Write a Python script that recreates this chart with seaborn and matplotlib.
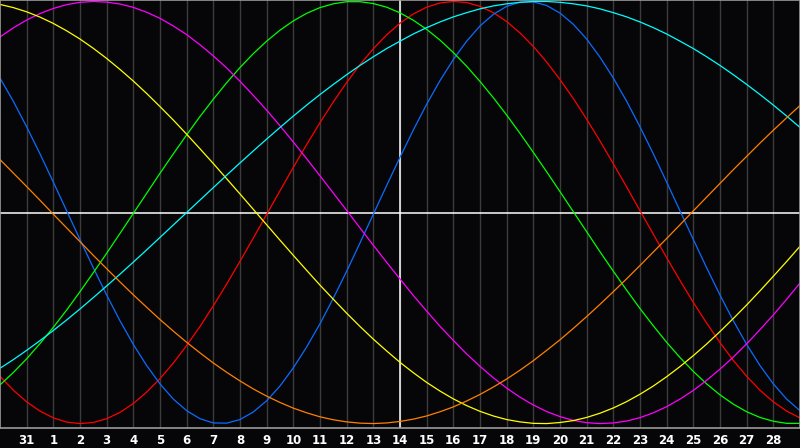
import matplotlib
matplotlib.use("Agg")
import matplotlib.pyplot as plt
import seaborn as sns
import pandas as pd
import numpy as np

sns.set_style("dark")

# day index runs from Jan 30 (0) to Feb 29-ish (30), read in half-day steps
days = np.arange(0, 30.01, 0.5)
day_labels = ["31"] + [str(d) for d in range(1, 29)]

# cycle values (-1 .. 1)
red = [-.776,-.842,-.897,-.941,-.973,-.993,-1.000,-.995,-.977,-.947,-.905,-.851,-.787,-.713,-.630,-.540,-.442,-.339,-.231,-.121,-.009,.103,.214,.322,.426,.524,.616,.701,.776,.842,.897,.941,.973,.993,1.000,.995,.977,.947,.905,.851,.787,.713,.630,.540,.442,.339,.231,.121,.009,-.103,-.214,-.322,-.426,-.524,-.616,-.701,-.776,-.842,-.897,-.941,-.973]
blue = [.637,.527,.406,.278,.144,.008,-.128,-.262,-.391,-.513,-.625,-.725,-.812,-.884,-.939,-.977,-.997,-.998,-.981,-.945,-.892,-.822,-.736,-.637,-.527,-.406,-.278,-.144,-.008,.128,.262,.391,.513,.625,.725,.812,.884,.939,.977,.997,.998,.981,.945,.892,.822,.736,.637,.527,.406,.278,.144,.008,-.128,-.262,-.391,-.513,-.625,-.725,-.812,-.884,-.939]
green = [-.817,-.758,-.693,-.621,-.544,-.462,-.375,-.285,-.193,-.099,-.004,.091,.186,.278,.368,.455,.537,.615,.687,.753,.812,.864,.908,.944,.971,.989,.999,.999,.990,.973,.946,.911,.868,.817,.758,.693,.621,.544,.462,.375,.285,.193,.099,.004,-.091,-.186,-.278,-.368,-.455,-.537,-.615,-.687,-.753,-.812,-.864,-.908,-.944,-.971,-.989,-.999,-.999]
magenta = [.832,.875,.912,.943,.967,.985,.996,1.000,.997,.988,.972,.949,.920,.884,.843,.795,.742,.685,.622,.555,.485,.411,.334,.255,.174,.092,.010,-.073,-.155,-.236,-.315,-.393,-.467,-.539,-.606,-.670,-.729,-.783,-.832,-.875,-.912,-.943,-.967,-.985,-.996,-1.000,-.997,-.988,-.972,-.949,-.920,-.884,-.843,-.795,-.742,-.685,-.622,-.555,-.485,-.411,-.334]
yellow = [.986,.971,.951,.926,.896,.861,.822,.778,.730,.678,.623,.564,.502,.438,.371,.302,.232,.160,.088,.015,-.058,-.131,-.203,-.274,-.344,-.411,-.477,-.540,-.600,-.656,-.710,-.759,-.805,-.846,-.883,-.915,-.942,-.964,-.981,-.992,-.999,-1.000,-.995,-.986,-.971,-.951,-.926,-.896,-.861,-.822,-.778,-.730,-.678,-.623,-.564,-.502,-.438,-.371,-.302,-.232,-.160]
orange = [.251,.187,.123,.058,-.008,-.073,-.138,-.203,-.266,-.329,-.390,-.449,-.507,-.562,-.615,-.665,-.713,-.757,-.798,-.836,-.870,-.900,-.927,-.949,-.968,-.982,-.992,-.998,-1.000,-.997,-.990,-.979,-.964,-.944,-.921,-.893,-.862,-.827,-.789,-.747,-.702,-.653,-.603,-.549,-.493,-.435,-.375,-.314,-.251,-.187,-.123,-.058,.008,.073,.138,.203,.266,.329,.390,.449,.507]
cyan = [-.738,-.697,-.653,-.607,-.559,-.509,-.457,-.403,-.348,-.292,-.235,-.177,-.118,-.059,.000,.059,.118,.177,.235,.292,.348,.403,.457,.509,.559,.607,.653,.697,.738,.777,.812,.846,.876,.903,.927,.947,.965,.979,.989,.996,1.000,1.000,.996,.989,.979,.965,.947,.927,.903,.876,.846,.812,.777,.738,.697,.653,.607,.559,.509,.457,.403]

series = {"red": red, "blue": blue, "green": green, "magenta": magenta,
          "yellow": yellow, "cyan": cyan, "orange": orange}
palette = {"red": "#ff0000", "blue": "#0a6cff", "green": "#00ff00", "magenta": "#ff00ff",
           "yellow": "#ffff00", "cyan": "#00ffff", "orange": "#ff8000"}

df = pd.concat([pd.DataFrame({"day": days, "value": v, "cycle": k}) for k, v in series.items()])

bg = "#060609"
fig = plt.figure(figsize=(8, 4.48), dpi=100, facecolor=bg)
ax = fig.add_axes([0, 20 / 448, 1, 428 / 448])
ax.set_facecolor(bg)

# day grid
for d in range(1, 30):
    ax.axvline(d, color="#3c3c3c", lw=1, zorder=0)
ax.axvline(15, color="white", lw=1.1, zorder=1)
ax.axhline(0, color="white", lw=1.1, zorder=1)

sns.lineplot(data=df, x="day", y="value", hue="cycle", palette=palette,
             linewidth=0.9, legend=False, ax=ax, zorder=2)

ax.set_xlim(0, 30)
ax.set_ylim(-1.021, 1.007)
ax.set_xticks(range(1, 30))
ax.set_xticklabels(day_labels, color="white", fontsize=8.5, fontweight="bold",
                   family="DejaVu Sans")
ax.tick_params(axis="x", length=0, pad=4)
ax.set_yticks([])
ax.set_xlabel("")
ax.set_ylabel("")
ax.grid(False)
for s in ax.spines.values():
    s.set_visible(True)
    s.set_color("#9a9a9a")
    s.set_linewidth(1.2)

fig.savefig("out.png", dpi=100, facecolor=bg)
